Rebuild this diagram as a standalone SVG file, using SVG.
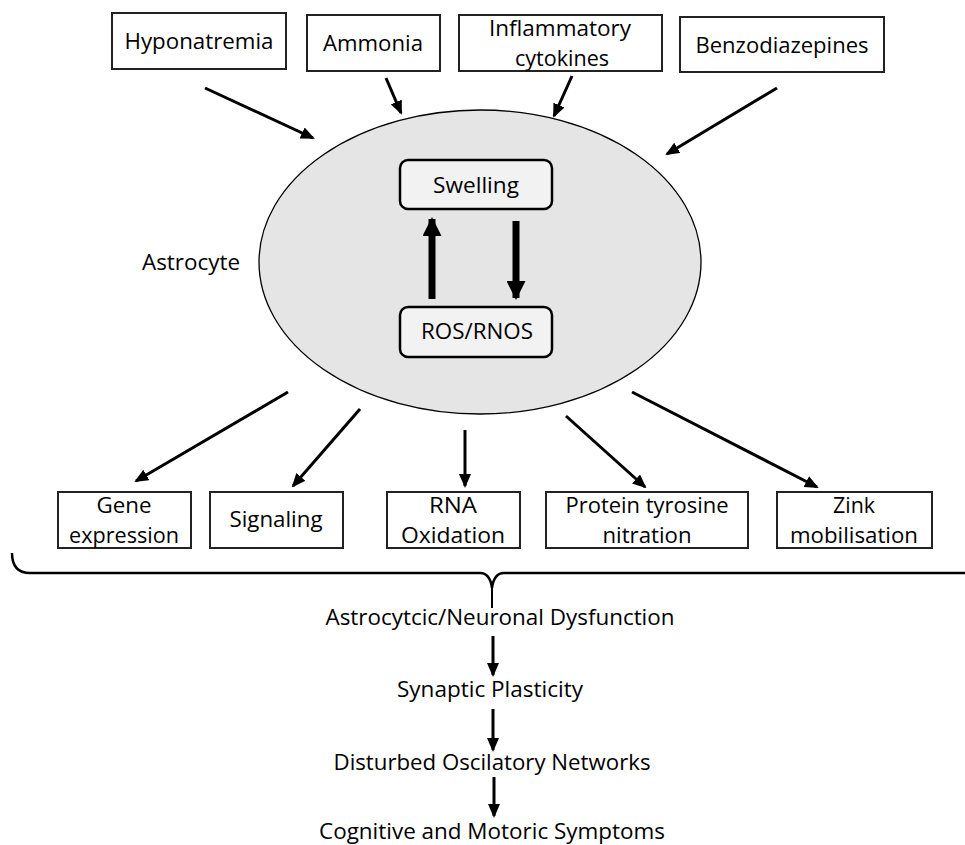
<svg xmlns="http://www.w3.org/2000/svg" width="965" height="845" viewBox="0 0 965 845">
<defs>
<style>
.box{fill:#fff;stroke:#222;stroke-width:2}
.inner{fill:#f2f2f2;stroke:#000;stroke-width:2.5}
.t{font-family:"Open Sans","Liberation Sans",sans-serif;font-size:22px;fill:#000;text-anchor:middle}
.c{stroke:#000;stroke-width:3;fill:none}
.thick{stroke:#000;stroke-width:7;fill:none}
</style>
<marker id="ah" markerUnits="userSpaceOnUse" markerWidth="14" markerHeight="12" refX="12" refY="6" orient="auto"><path d="M0,0 L14,6 L0,12 z" fill="#000"/></marker>
<marker id="big" markerUnits="userSpaceOnUse" markerWidth="19" markerHeight="19" refX="17" refY="9.5" orient="auto"><path d="M0,0 L19,9.5 L0,19 z" fill="#000"/></marker>
</defs>
<rect width="965" height="845" fill="#fff"/>

<g id="astrocyte">
<ellipse cx="480" cy="262" rx="221" ry="152" fill="#e6e5e6" stroke="#000" stroke-width="1.3"/>
<text class="t" x="191" y="270" textLength="98" lengthAdjust="spacingAndGlyphs">Astrocyte</text>
</g>

<g id="hyponatremia"><rect class="box" x="112" y="13" width="174" height="56"/><text class="t" x="199" y="49" textLength="149" lengthAdjust="spacingAndGlyphs">Hyponatremia</text></g>
<g id="ammonia"><rect class="box" x="307" y="15" width="133" height="56"/><text class="t" x="373" y="51" textLength="100" lengthAdjust="spacingAndGlyphs">Ammonia</text></g>
<g id="cytokines"><rect class="box" x="459" y="15" width="203" height="56"/><text class="t" x="560" y="36" textLength="142" lengthAdjust="spacingAndGlyphs">Inflammatory</text><text class="t" x="562" y="66" textLength="94" lengthAdjust="spacingAndGlyphs">cytokines</text></g>
<g id="benzodiazepines"><rect class="box" x="680" y="17" width="204" height="55"/><text class="t" x="782" y="53" textLength="173" lengthAdjust="spacingAndGlyphs">Benzodiazepines</text></g>

<g id="swelling"><rect class="inner" x="400" y="160" width="152" height="49" rx="8"/><text class="t" x="476" y="193" textLength="86" lengthAdjust="spacingAndGlyphs">Swelling</text></g>
<g id="ros"><rect class="inner" x="400" y="307" width="152" height="50" rx="8"/><text class="t" x="477" y="339" textLength="112" lengthAdjust="spacingAndGlyphs">ROS/RNOS</text></g>

<g id="gene"><rect class="box" x="58" y="492" width="133" height="56"/><text class="t" x="124" y="513" textLength="55" lengthAdjust="spacingAndGlyphs">Gene</text><text class="t" x="124" y="543" textLength="110" lengthAdjust="spacingAndGlyphs">expression</text></g>
<g id="signaling"><rect class="box" x="210" y="492" width="133" height="56"/><text class="t" x="276" y="527" textLength="93" lengthAdjust="spacingAndGlyphs">Signaling</text></g>
<g id="rna"><rect class="box" x="387" y="492" width="133" height="56"/><text class="t" x="453" y="513" textLength="48" lengthAdjust="spacingAndGlyphs">RNA</text><text class="t" x="453" y="543" textLength="104" lengthAdjust="spacingAndGlyphs">Oxidation</text></g>
<g id="protein"><rect class="box" x="546" y="492" width="202" height="56"/><text class="t" x="647" y="513" textLength="163" lengthAdjust="spacingAndGlyphs">Protein tyrosine</text><text class="t" x="647" y="543" textLength="89" lengthAdjust="spacingAndGlyphs">nitration</text></g>
<g id="zink"><rect class="box" x="777" y="492" width="155" height="56"/><text class="t" x="854" y="513" textLength="42" lengthAdjust="spacingAndGlyphs">Zink</text><text class="t" x="854" y="543" textLength="128" lengthAdjust="spacingAndGlyphs">mobilisation</text></g>

<g id="brace">
<path d="M12,553 Q12,573 30,573 L480,573 Q490,573 492,588 Q494,573 504,573 L965,573" fill="none" stroke="#000" stroke-width="2.5"/>
<line x1="492" y1="585" x2="492" y2="608" stroke="#000" stroke-width="2"/>
</g>

<g id="outcomes">
<text class="t" x="500" y="625" textLength="349" lengthAdjust="spacingAndGlyphs">Astrocytcic/Neuronal Dysfunction</text>
<text class="t" x="490" y="697" textLength="186" lengthAdjust="spacingAndGlyphs">Synaptic Plasticity</text>
<text class="t" x="492" y="770" textLength="317" lengthAdjust="spacingAndGlyphs">Disturbed Oscilatory Networks</text>
<text class="t" x="492" y="839" textLength="346" lengthAdjust="spacingAndGlyphs">Cognitive and Motoric Symptoms</text>
</g>

<g id="connectors">
<line class="c" x1="205" y1="88" x2="313" y2="138" marker-end="url(#ah)"/>
<line class="c" x1="386" y1="78" x2="401" y2="113" marker-end="url(#ah)"/>
<line class="c" x1="572" y1="76" x2="554" y2="116" marker-end="url(#ah)"/>
<line class="c" x1="777" y1="88" x2="667" y2="154" marker-end="url(#ah)"/>
<line class="thick" x1="432" y1="299" x2="432" y2="219" marker-end="url(#big)"/>
<line class="thick" x1="516" y1="221" x2="516" y2="298" marker-end="url(#big)"/>
<line class="c" x1="288" y1="392" x2="136" y2="481" marker-end="url(#ah)"/>
<line class="c" x1="360" y1="409" x2="293" y2="486" marker-end="url(#ah)"/>
<line class="c" x1="465" y1="430" x2="465" y2="486" marker-end="url(#ah)"/>
<line class="c" x1="566" y1="416" x2="645" y2="487" marker-end="url(#ah)"/>
<line class="c" x1="632" y1="392" x2="817" y2="487" marker-end="url(#ah)"/>
<line class="c" x1="493" y1="636" x2="493" y2="675" marker-end="url(#ah)"/>
<line class="c" x1="493" y1="709" x2="493" y2="750" marker-end="url(#ah)"/>
<line class="c" x1="494" y1="777" x2="494" y2="816" marker-end="url(#ah)"/>
</g>
</svg>
